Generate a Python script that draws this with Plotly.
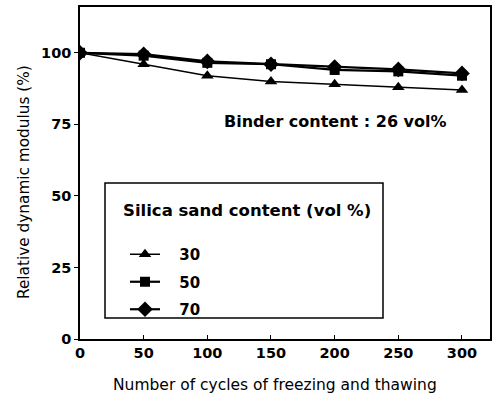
import plotly.graph_objects as go

cycles = [0, 50, 100, 150, 200, 250, 300]
sand_30 = [100, 96, 92, 90, 89, 88, 87]
sand_50 = [100, 99, 96.5, 96, 94, 93.5, 92]
sand_70 = [100, 99.5, 97, 96, 95, 94.2, 92.8]
x_ticks = [0, 50, 100, 150, 200, 250, 300]
y_ticks = [0, 25, 50, 75, 100]

FB = "DejaVu Sans"
L, T, W, H = 80, 7, 410, 332  # plot area in px


def px(x):
    return (x - L) / W


def py(y):
    return (T + H - y) / H


fig = go.Figure()
fig.add_trace(go.Scatter(x=cycles, y=sand_70, name="&nbsp;&nbsp;&nbsp;<b>70</b>", mode="lines+markers",
                         legendgroup="c", legendrank=3,
                         line=dict(color="black", width=2.2),
                         marker=dict(symbol="diamond", size=12, color="black")))
fig.add_trace(go.Scatter(x=cycles, y=sand_50, name="&nbsp;&nbsp;&nbsp;<b>50</b>", mode="lines+markers",
                         legendgroup="b", legendrank=2,
                         line=dict(color="black", width=2.2),
                         marker=dict(symbol="square", size=10, color="black")))
fig.add_trace(go.Scatter(x=cycles, y=sand_30, name="&nbsp;&nbsp;&nbsp;<b>30</b>", mode="lines+markers",
                         legendgroup="a", legendrank=1,
                         line=dict(color="black", width=1.5),
                         marker=dict(symbol="triangle-up", size=11, color="black")))

fig.update_layout(
    width=496, height=412,
    margin=dict(l=80, r=6, t=7, b=73),
    paper_bgcolor="white", plot_bgcolor="white",
    showlegend=True,
    legend=dict(x=px(125), y=py(238), xanchor="left", yanchor="top",
                traceorder="grouped",
                bgcolor="rgba(0,0,0,0)",
                font=dict(family=FB, size=15, color="black"),
                tracegroupgap=5),
    xaxis=dict(range=[0, 322], tickvals=x_ticks,
               ticktext=[f"<b>{v}</b>" for v in x_ticks], automargin=False,
               showgrid=False, zeroline=False, showline=True, linecolor="black", linewidth=1.5,
               mirror=True, ticks="inside", ticklen=4, tickcolor="black",
               tickfont=dict(family=FB, size=14.5, color="black")),
    yaxis=dict(range=[0, 116], tickvals=y_ticks,
               ticktext=[f"<b>{v}</b>" for v in y_ticks], automargin=False,
               showgrid=False, zeroline=False, showline=True, linecolor="black", linewidth=1.5,
               mirror=True, ticks="outside", ticklen=4, tickcolor="black",
               tickfont=dict(family=FB, size=14.5, color="black")),
)
fig.add_annotation(text="Relative dynamic modulus (%)", xref="paper", yref="paper",
                   x=px(24), y=py(182), xanchor="center", yanchor="middle",
                   textangle=-90, showarrow=False,
                   font=dict(family=FB, size=15.3, color="black"))
fig.add_annotation(text="Number of cycles of freezing and thawing", xref="paper", yref="paper",
                   x=px(275), y=py(385), xanchor="center", yanchor="middle", showarrow=False,
                   font=dict(family=FB, size=15.5, color="black"))
fig.add_shape(type="rect", xref="paper", yref="paper",
              x0=px(105), x1=px(383), y0=py(318), y1=py(183),
              line=dict(color="black", width=1.5))
fig.add_annotation(text="<b>Silica sand content (vol %)</b>", xref="paper", yref="paper",
                   x=px(121), y=py(210), xanchor="left", yanchor="middle", showarrow=False,
                   font=dict(family=FB, size=16.5, color="black"))
fig.add_annotation(text="<b>Binder content : 26 vol%</b>", xref="paper", yref="paper",
                   x=px(335), y=py(122), xanchor="center", yanchor="middle", showarrow=False,
                   font=dict(family=FB, size=16, color="black"))
fig.write_html("out.html", post_script="document.body.style.margin='0';",
               config={"displayModeBar": False})
